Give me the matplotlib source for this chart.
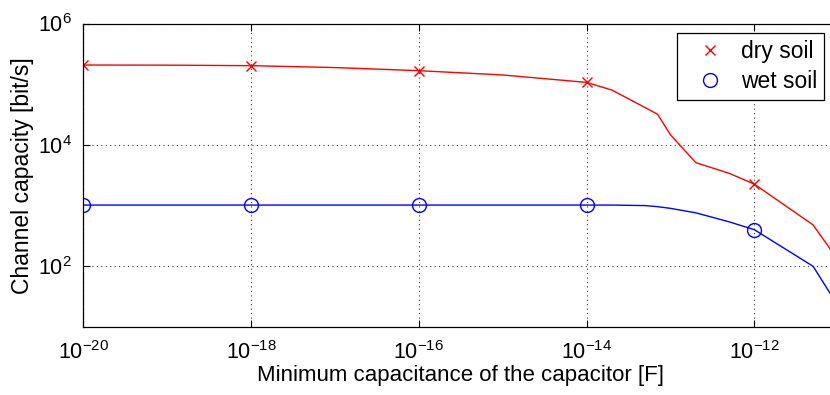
import matplotlib
matplotlib.use("Agg")
import matplotlib.pyplot as plt
from matplotlib.ticker import NullLocator, FixedLocator
from matplotlib.lines import Line2D

# Minimum capacitance values [F] at which the channel capacity was evaluated
capacitance = [1e-20, 1e-19, 1e-18, 1e-17, 1e-16, 1e-15, 1e-14, 2e-14,
               5e-14, 7e-14, 1e-13, 2e-13, 5e-13, 1e-12, 5e-12, 1e-11]

# Channel capacity [bit/s]
dry_soil = [2.07e5, 2.06e5, 2.02e5, 1.88e5, 1.67e5, 1.42e5, 1.07e5, 8.0e4,
            4.1e4, 3.2e4, 1.46e4, 5.1e3, 3.4e3, 2.25e3, 4.8e2, 1.25e2]
wet_soil = [1.02e3, 1.02e3, 1.02e3, 1.02e3, 1.02e3, 1.02e3, 1.02e3, 1.02e3,
            1.0e3, 9.6e2, 9.0e2, 7.6e2, 5.4e2, 4.0e2, 1.0e2, 2.2e1]

# indices that carry a marker
marked = [0, 2, 4, 6, 13]

x_ticks = [1e-20, 1e-18, 1e-16, 1e-14, 1e-12]
y_ticks = [1e2, 1e4, 1e6]

plt.rcParams['font.family'] = ['Liberation Sans', 'DejaVu Sans']
plt.rcParams['mathtext.fontset'] = 'custom'
plt.rcParams['mathtext.rm'] = 'Liberation Sans'
plt.rcParams['mathtext.it'] = 'Liberation Sans:italic'

fig = plt.figure(figsize=(8.30, 3.95), dpi=100)
ax = fig.add_axes([0.1004, 0.1722, 0.9096, 0.7683])

ax.plot(capacitance, dry_soil, color='red', lw=1.0)
ax.plot(capacitance, wet_soil, color='blue', lw=1.0)
ax.plot([capacitance[i] for i in marked], [dry_soil[i] for i in marked],
        ls='none', marker='x', ms=7, mew=1.0, color='red')
ax.plot([capacitance[i] for i in marked], [wet_soil[i] for i in marked],
        ls='none', marker='o', ms=10, mew=1.0, mfc='none', mec='blue')

ax.set_xscale('log')
ax.set_yscale('log')
ax.set_xlim(1e-20, 1e-11)
ax.set_ylim(1e1, 1e6)

ax.xaxis.set_major_locator(FixedLocator(x_ticks))
ax.yaxis.set_major_locator(FixedLocator(y_ticks))
ax.xaxis.set_minor_locator(NullLocator())
ax.yaxis.set_minor_locator(NullLocator())

ax.tick_params(axis='both', which='major', direction='in', length=5,
               width=0.8, labelsize=15.5, top=True, right=True, pad=8)
ax.tick_params(axis='x', pad=10)

ax.grid(True, which='major', ls=(0, (1, 3)), color='#333333', lw=0.8)

for s in ax.spines.values():
    s.set_linewidth(0.9)
    s.set_color('black')

ax.set_xlabel('Minimum capacitance of the capacitor [F]', fontsize=16, labelpad=1)
ax.set_ylabel('Channel capacity [bit/s]', fontsize=16.5, labelpad=3)

handles = [
    Line2D([], [], ls='none', marker='x', ms=7, mew=1.0, color='red'),
    Line2D([], [], ls='none', marker='o', ms=10, mew=1.0, mfc='none', mec='blue'),
]
leg = ax.legend(handles, ['dry soil', 'wet soil'], loc='upper right',
                bbox_to_anchor=(0.981, 0.968), borderaxespad=0, fontsize=16.5,
                fancybox=False, framealpha=1, edgecolor='black',
                handlelength=2.3, handletextpad=0.2, borderpad=0.3,
                labelspacing=0.3)
leg.get_frame().set_linewidth(0.9)

fig.savefig('out.png', dpi=100)
